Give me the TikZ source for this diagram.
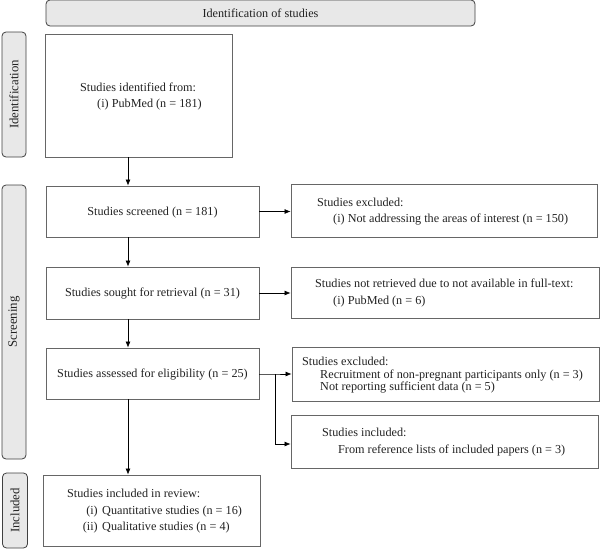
\documentclass[tikz,border=0pt]{standalone}
\usepackage{fontspec}
\setmainfont{Liberation Serif}
\usetikzlibrary{arrows.meta}
\definecolor{sidefill}{HTML}{E8E8E8}
\definecolor{boxline}{HTML}{666666}
\definecolor{txtcol}{HTML}{222222}
\begin{document}
\begin{tikzpicture}[x=1pt,y=-1pt,
  every node/.style={font=\fontsize{12.2}{14}\selectfont,text=txtcol},
  box/.style={draw=boxline,line width=0.8pt,rectangle,inner sep=0pt},
  side/.style={draw=black!75,fill=sidefill,rounded corners=4pt,line width=0.8pt,inner sep=0pt},
  sidet/.style={rotate=90,inner sep=0pt,font=\fontsize{12.8}{14}\selectfont},
  txt/.style={anchor=base west,inner sep=0pt},
  ctxt/.style={anchor=base,inner sep=0pt},
  arr/.style={-{Latex[length=6pt,width=5pt]},line width=0.7pt,black}]
\useasboundingbox (0,0) rectangle (600,549);
% header
\node[side,minimum width=429,minimum height=26] (head) at (260.5,13) {};
\node[ctxt] (headt) at (260.5,17) {Identification of studies};
% side labels
\node[side,minimum width=24,minimum height=125] (sid) at (14,94.5) {};
\node[sidet] (sidt) at (sid.center) {Identification};
\node[side,minimum width=24,minimum height=274] (ssc) at (14,322) {};
\node[sidet] (ssct) at (ssc.center) {Screening};
\node[side,minimum width=25,minimum height=75] (sin) at (15,510.5) {};
\node[sidet] (sint) at (sin.center) {Included};
% left column
\node[box,minimum width=187,minimum height=123] (ident) at (138.5,95.5) {};
\node[txt] (identa) at (80,91) {Studies identified from:};
\node[txt] (identb) at (97,107) {(i) PubMed (n = 181)};
\node[box,minimum width=213,minimum height=51] (scr) at (152.5,211.5) {};
\node[ctxt] (scrt) at (152.5,215) {Studies screened (n = 181)};
\node[box,minimum width=213,minimum height=52] (sou) at (152.5,293) {};
\node[ctxt] (sout) at (152.5,296) {Studies sought for retrieval (n = 31)};
\node[box,minimum width=213,minimum height=51] (ass) at (152.5,373.5) {};
\node[ctxt] (asst) at (152.5,377) {Studies assessed for eligibility (n = 25)};
\node[box,minimum width=217,minimum height=71] (inc) at (151.5,510.5) {};
\node[txt] (inca) at (67,497) {Studies included in review:};
\node[anchor=base east,inner sep=0pt] (incb) at (98,514) {(i)};
\node[txt] (incc) at (102,514) {Quantitative studies (n = 16)};
\node[anchor=base east,inner sep=0pt] (incd) at (98,530) {(ii)};
\node[txt] (ince) at (102,530) {Qualitative studies (n = 4)};
% right column
\node[box,minimum width=306,minimum height=53] (ex1) at (444,210.5) {};
\node[txt] (ex1a) at (317,206) {Studies excluded:};
\node[txt] (ex1b) at (333,222) {(i) Not addressing the areas of interest (n = 150)};
\node[box,minimum width=308,minimum height=51] (nr) at (445,292.5) {};
\node[txt] (nra) at (315,287) {Studies not retrieved due to not available in full-text:};
\node[txt] (nrb) at (333,304) {(i) PubMed (n = 6)};
\node[box,minimum width=307,minimum height=54] (ex2) at (445.5,374) {};
\node[txt] (ex2a) at (302,365) {Studies excluded:};
\node[txt] (ex2b) at (320,378) {Recruitment of non-pregnant participants only (n = 3)};
\node[txt] (ex2c) at (320,390) {Not reporting sufficient data (n = 5)};
\node[box,minimum width=307,minimum height=53] (inr) at (444.5,441.5) {};
\node[txt] (inra) at (322,436) {Studies included:};
\node[txt] (inrb) at (338,453) {From reference lists of included papers (n = 3)};
% arrows
\draw[arr] (ident.south -| 128,0) -- (scr.north -| 128,0);
\draw[arr] (scr.south -| 128,0) -- (sou.north -| 128,0);
\draw[arr] (sou.south -| 128,0) -- (ass.north -| 128,0);
\draw[arr] (ass.south -| 128,0) -- (inc.north -| 128,0);
\draw[arr] (scr.east) -- (scr.east -| ex1.west);
\draw[arr] (sou.east) -- (sou.east -| nr.west);
\coordinate (br) at (275,374);
\draw[arr] (ass.east |- br) -- (br) -- (br -| ex2.west);
\draw[arr] (br) -- (275,444) -- (inr.west |- 0,444);
\end{tikzpicture}
\end{document}
